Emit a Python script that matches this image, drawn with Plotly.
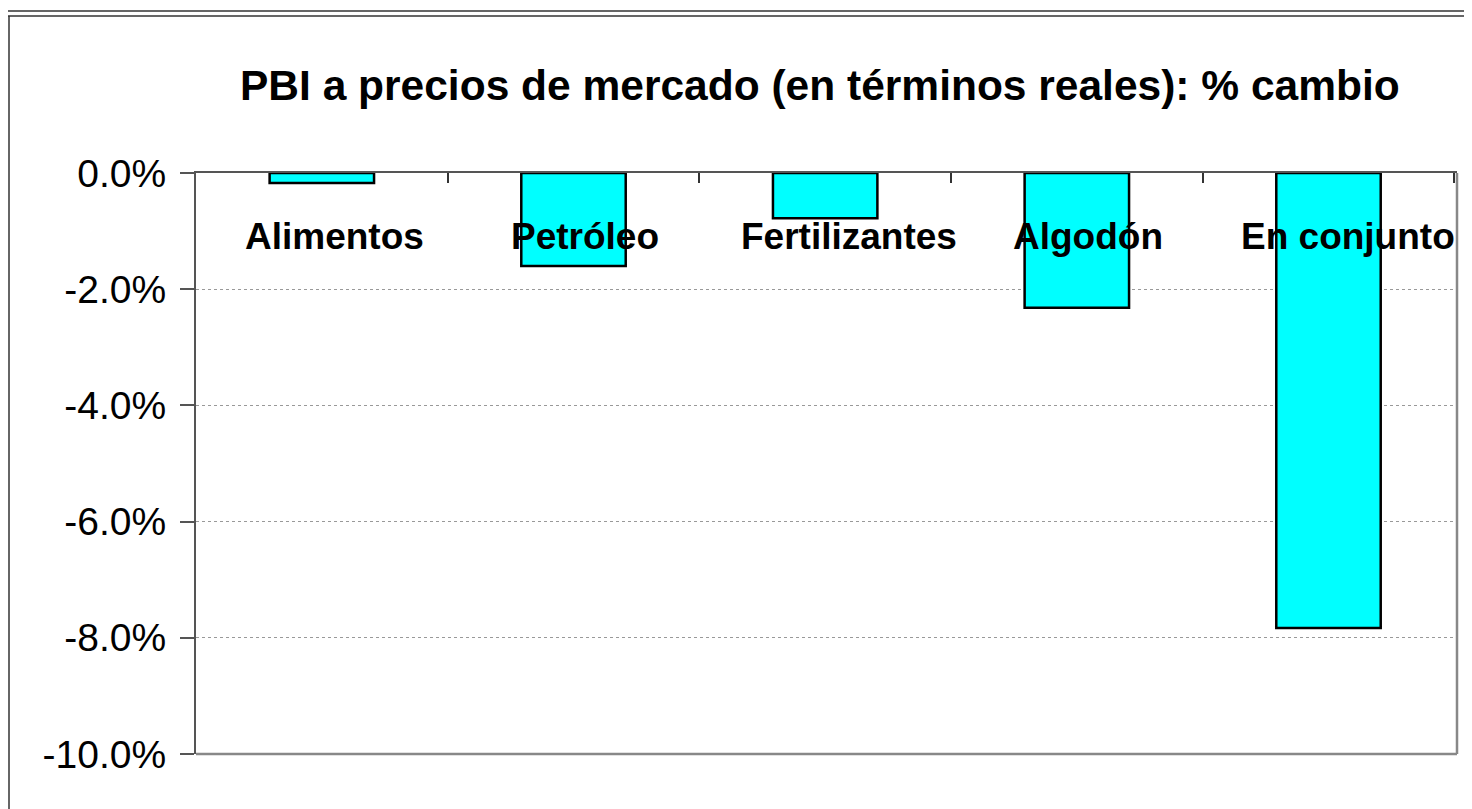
import plotly.graph_objects as go

categories = ["Alimentos", "Petróleo", "Fertilizantes", "Algodón", "En conjunto"]
values = [-0.17, -1.6, -0.78, -2.32, -7.83]
tick_vals = [0, -2, -4, -6, -8, -10]
tick_text = ["0.0%", "-2.0%", "-4.0%", "-6.0%", "-8.0%", "-10.0%"]
title_text = "PBI a precios de mercado (en términos reales): % cambio"

# label horizontal offsets (style), in px
label_shift = [12.5, 11, 24, 11.5, 19.5]

FONT = "Arial, 'Liberation Sans', sans-serif"
OFF = 8  # page body margin offset
W, H = 1472 - OFF, 809 - OFF
# plot area in screen coordinates
L, R, T, B = 196, 1457, 173, 754

def px(x):
    return (x - L) / (R - L)

def py(y):
    return (B - y) / (B - T)

fig = go.Figure()
fig.add_trace(go.Bar(
    x=categories, y=values,
    marker=dict(color="#00FFFF", line=dict(color="#000000", width=2.5)),
    width=0.415,
))

for c, sh in zip(categories, label_shift):
    fig.add_annotation(x=c, xref="x", y=py(236), yref="paper", text="<b>" + c + "</b>",
                       showarrow=False, font=dict(family=FONT, size=37, color="#000000"),
                       xanchor="center", yanchor="middle", xshift=sh)

fig.add_annotation(x=px(820), xref="paper", y=py(85.5), yref="paper",
                   text="<b>" + title_text + "</b>", showarrow=False,
                   font=dict(family=FONT, size=42.5, color="#000000"),
                   xanchor="center", yanchor="middle")

shapes = [
    # outer frame
    dict(type="line", xref="paper", yref="paper", x0=px(8), x1=px(1480), y0=py(11), y1=py(11),
         line=dict(color="#333333", width=1.5)),
    dict(type="line", xref="paper", yref="paper", x0=px(8), x1=px(1480), y0=py(16), y1=py(16),
         line=dict(color="#333333", width=1.5)),
    dict(type="line", xref="paper", yref="paper", x0=px(9), x1=px(9), y0=py(16), y1=py(820),
         line=dict(color="#333333", width=1.5)),
    # plot frame bottom and right
    dict(type="line", xref="paper", yref="paper", x0=0, x1=1, y0=0, y1=0,
         line=dict(color="#888888", width=2.5)),
    dict(type="line", xref="paper", yref="paper", x0=1, x1=1, y0=0, y1=1,
         line=dict(color="#888888", width=2.5)),
]
fig.update_layout(shapes=shapes)

fig.update_layout(
    width=W, height=H,
    margin=dict(l=L - OFF, r=W - (R - OFF), t=T - OFF, b=H - (B - OFF), pad=0),
    paper_bgcolor="white", plot_bgcolor="white",
    showlegend=False,
    xaxis=dict(
        side="top", showticklabels=False, showline=True, linecolor="#555555", linewidth=2,
        ticks="inside", tickson="boundaries", ticklen=10, tickcolor="#333333", tickwidth=1.5,
        showgrid=False, zeroline=False, fixedrange=True,
    ),
    yaxis=dict(
        range=[-10, 0], tickvals=tick_vals, ticktext=tick_text,
        tickfont=dict(family=FONT, size=39, color="#000000"),
        ticks="outside", ticklen=14, tickcolor="#555555", tickwidth=1.5,
        ticklabelstandoff=6,
        showline=True, linecolor="#555555", linewidth=2,
        showgrid=True, gridcolor="#999999", griddash="dot", gridwidth=1,
        zeroline=False, fixedrange=True,
    ),
)

fig.write_html("out.html")
